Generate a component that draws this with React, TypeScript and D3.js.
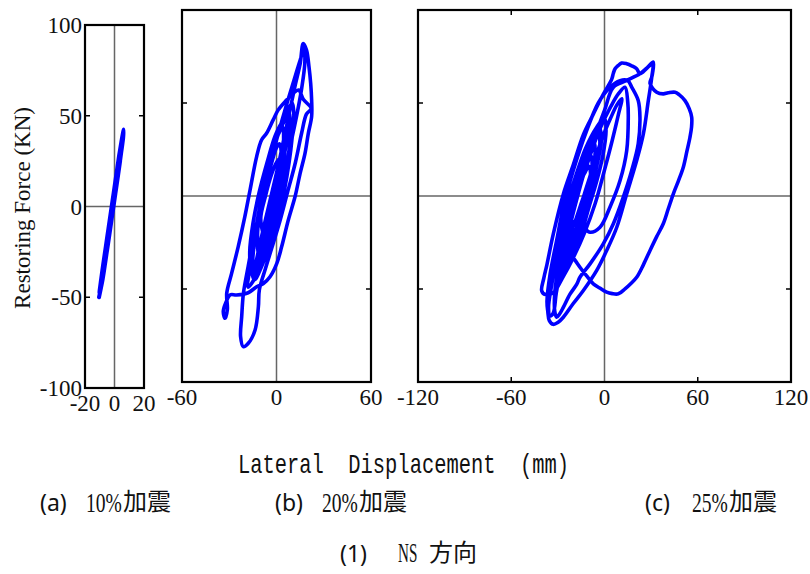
import React from "react";
import * as d3 from "d3";

type Pt = [number, number];

// ---------- tick values ----------
const forceTicks = [100, 50, 0, -50, -100];
const dispTicksA = [-20, 0, 20];
const dispTicksB = [-60, 0, 60];
const dispTicksC = [-120, -60, 0, 60, 120];

// ---------- hysteresis data (displacement mm, force kN) ----------
const loopA: Pt[] = [
  [-10.5, -50], [-8.0, -40], [-6.1, -30], [-4.3, -20], [-2.5, -10], [-0.7, 0], [1.1, 10], [2.9, 20],
  [4.6, 30], [5.9, 38], [6.2, 42.4], [5.6, 40], [4.5, 35], [3.1, 28], [1.3, 18], [-0.5, 8], [-2.3, -2],
  [-4.1, -12], [-5.9, -22], [-7.7, -32], [-9.4, -42], [-10.3, -48], [-9.0, -43], [-7.0, -34], [-5.0, -24],
  [-3.0, -13], [-1.2, -3], [0.6, 7], [2.4, 17], [3.8, 25], [3.2, 22], [1.6, 13], [-0.4, 2], [-2.4, -8],
  [-4.4, -18], [-6.2, -27], [-7.5, -33],
];

const loopB: Pt[] = [
  // small inner loops
  [-8, -22], [-10, -12], [-7, 0], [-3, 12], [0, 18], [2, 20], [3, 14], [1, 2], [-3, -10], [-6, -18],
  [-11, -33], [-12, -20], [-10, -5], [-7, 10], [-3.5, 22], [0, 31], [4, 37], [4.5, 31], [4, 22], [3, 10],
  [0, -5], [-4, -20], [-8, -29], [-12, -34],
  [-16, -40], [-17, -30], [-15, -15], [-11, 2], [-6, 18], [-1, 32], [3, 39], [6, 42], [7, 35], [5, 22],
  [2, 8], [-2, -8], [-7, -22], [-12, -36], [-14, -45],
  // rise to peak
  [-13, -36], [-9, -20], [-4, -2], [1, 16], [5, 32], [9, 48], [12, 60], [15, 71], [17, 82],
  // down right side
  [19.1, 78.4], [20.6, 69.6], [21.7, 60.6], [22.3, 51.6], [22.3, 42.7], [20.2, 33.7], [18.1, 22.9],
  [15, 12.2], [11.8, -0.3], [7.5, -12.9], [3.3, -27.2], [0.2, -36.2], [-4.1, -43.4], [-8.3, -47],
  [-12.6, -48.8], [-18, -52], [-25.3, -53.2], [-29.5, -53.2], [-32, -57], [-33.8, -62], [-32.7, -65.7],
  [-31.2, -61],
  // up left envelope
  [-31.6, -52.3], [-28.5, -41.6], [-24.3, -27.2], [-20.1, -11.1], [-16.8, 3.2], [-12.6, 21.2], [-9.5, 30.1],
  [-6.3, 33.7], [-2.1, 40.9], [1.1, 46.3], [6.4, 51.6], [10.6, 55.2], [14, 57], [17, 52], [22, 47], [19, 44],
  // down into lowest loop
  [16, 34], [12, 18], [7, 2], [2, -14], [-3, -28], [-7, -39], [-10.9, -50.5], [-11.5, -59.5], [-13.6, -72],
  [-17.9, -79.2], [-21.1, -81], [-22.8, -75.6], [-22.1, -64.9], [-21, -52.3], [-18, -37.9], [-14, -20],
  [-10, -5.7], [-5, 12], [0, 30], [6, 48], [11, 62], [15, 73], [17.5, 79], [18, 72], [16, 58], [13, 44],
  [9, 28], [4, 10], [-1, -8], [-6, -24], [-11, -38], [-15, -46], [-18, -49],
  // more inner loops
  [-15, -30], [-12, -12], [-8, 5], [-3, 22], [2, 35], [6, 42], [8, 45], [9, 38], [8, 25], [5, 10], [1, -5],
  [-4, -20], [-9, -33], [-13, -42], [-15, -35], [-13, -20], [-10, -5], [-6, 10], [-2, 25], [3, 38], [7, 46],
  [10, 50], [11, 44], [10, 32], [8, 18], [5, 3], [1, -12], [-4, -26], [-9, -37], [-14, -45],
  [-16, -36], [-14, -22], [-11, -8], [-7, 6], [-3, 18], [0, 26], [2, 28], [3, 22], [1, 10], [-2, -2],
  [-6, -14], [-10, -24], [-12, -28],
];

const loopC: Pt[] = [
  // inner loops
  [-20, -16], [-22, -8], [-18, 3], [-13, 12], [-10, 16], [-9, 10], [-12, 0], [-16, -10], [-20, -16],
  [-24, -30], [-26, -20], [-23, -8], [-19, 5], [-14, 18], [-10, 26], [-7, 30], [-6, 24], [-8, 12],
  [-12, 0], [-16, -12], [-20, -22], [-24, -30],
  [-27, -38], [-29, -28], [-26, -12], [-21, 4], [-15, 19], [-9, 30], [-3, 36], [-2, 30], [-5, 16],
  [-9, 2], [-14, -12], [-19, -24], [-24, -33], [-27, -38],
  [-30, -46], [-32, -36], [-29, -20], [-24, -4], [-18, 12], [-12, 26], [-5, 37], [0, 42], [1, 35],
  [-1, 22], [-5, 8], [-10, -6], [-15, -20], [-21, -32], [-26, -40], [-30, -46],
  // loop L1
  [-29, -38], [-24, -18], [-17, 2], [-10, 20], [-3, 36], [4, 48], [9, 55], [13.2, 58.5], [15, 50],
  [15.3, 42.4], [14.3, 24.5], [10, 8.3], [3.5, -6], [-2.9, -16.8], [-9.3, -19.5], [-13.6, -16.8],
  [-17, -14],
  // sharp inner loop
  [-14, -2], [-8, 14], [-2, 30], [4, 42], [8, 49], [11.1, 52.3], [9, 44], [5, 30], [0, 14], [-6, -4],
  [-13, -20], [-20, -33], [-27, -44], [-33, -52], [-38, -53],
  // big cycle: left envelope, top loop, spike, big right loop
  [-40.4, -51], [-39, -44], [-37, -36.7], [-33, -20.6],
  [-26.5, 1], [-20, 17], [-13.6, 33], [-7.2, 44], [-0.8, 54.7], [4.6, 62.7], [5.7, 66], [6.8, 68.4],
  [8.9, 70.2], [11, 71.5], [14.3, 71.1], [17.5, 70], [20.7, 68.4], [22.8, 65.7], [27, 68.5], [31.4, 72],
  [30.9, 66], [30.4, 63.9], [29.3, 60.5], [33.6, 55.8], [37.8, 54.9], [41, 55.5], [45.4, 55.8], [48, 54.5],
  [51.8, 51.3], [54.5, 47], [56.1, 42.4], [56, 37], [55, 31.6], [53, 24], [50.7, 15.5], [47.5, 8],
  [44.3, 1.2], [41, -7], [37.8, -14.9], [33.5, -22], [29.3, -29.3], [25, -37], [20.7, -43.7], [17, -47],
  [13.2, -49.9], [8.9, -52.6], [5, -52.5], [1.4, -51.7], [-3, -49.5], [-7.2, -47.2], [-11.5, -43],
  [-15.8, -38.3], [-19, -34.5], [-22.2, -31.1], [-28.6, -27.5], [-31, -35], [-34, -48], [-36, -60],
  [-35, -64.5], [-33, -63],
  // second rise to spike, down L3
  [-31, -52], [-27, -35], [-21, -12], [-14, 10], [-7, 30], [0, 46], [5.7, 58.5],
  [14, 62], [22.8, 65.7], [27.5, 69], [31, 71], [30.4, 63.9], [28.2, 51.3], [25, 33.4], [20.7, 19.1],
  [14.3, 1.2], [7.9, -16.8], [1.4, -29.3], [-5, -40], [-13.6, -50.8], [-20.1, -57.8], [-26.5, -65.2],
  [-30, -68], [-33, -69], [-35.5, -67], [-36.5, -62], [-37, -56.5], [-35, -42], [-30.8, -24], [-26.5, -6],
  // L2 loop
  [-20, 14], [-12, 34], [-4, 50], [3, 58], [10, 62], [15, 62], [17.5, 58.5], [21.7, 51.3], [22.8, 42.4],
  [21.7, 28.1], [17.5, 13.7], [12.1, -0.6], [5.7, -14.9], [-0.8, -25.7], [-9.3, -36.5], [-15.8, -43.7],
  [-17.9, -47.5], [-22.2, -52.8], [-26.5, -59.9], [-29, -63.6], [-30.8, -65.2], [-32, -62], [-32, -52],
  // decaying inner loops
  [-30, -40], [-26, -24], [-21, -8], [-15, 10], [-9, 24], [-4, 34], [-3, 28], [-6, 16], [-10, 2],
  [-15, -12], [-20, -24], [-25, -34], [-28, -36], [-27, -26], [-23, -12], [-18, 2], [-13, 14], [-9, 22],
  [-8, 16], [-11, 6], [-15, -4], [-19, -14],
];

// ---------- texts ----------
const yTitle = "Restoring Force (KN)";
const xTitle = "Lateral  Displacement  (mm)";
const panelTags = ["(a)", "(b)", "(c)"];
const panelLevels = ["10%", "20%", "25%"];
const panelSuffix = "加震";
const figTag = "(1)";
const figDir = "NS";
const figDirCJK = "方向";

const SERIF = "'Liberation Serif', 'Times New Roman', serif";
const MONO = "'Liberation Mono', 'DejaVu Sans Mono', monospace";
const SANS = "'Noto Sans', 'Liberation Sans', sans-serif";
const CJK = "'Noto Sans CJK JP', 'Noto Sans CJK SC', sans-serif";

type PanelProps = {
  left: number;
  right: number;
  top: number;
  bottom: number;
  xDomain: [number, number];
  xTicks: number[];
  data: Pt[];
  showY: boolean;
  lw: number;
};

function Panel({ left, right, top, bottom, xDomain, xTicks, data, showY, lw }: PanelProps) {
  const x = d3.scaleLinear().domain(xDomain).range([left, right]);
  const y = d3.scaleLinear().domain([-100, 100]).range([bottom, top]);
  const line = d3
    .line<Pt>()
    .x((d) => x(d[0]))
    .y((d) => y(d[1]))
    .curve(d3.curveCatmullRom.alpha(0.5));
  const innerY = forceTicks.filter((v) => v !== 0 && Math.abs(v) !== 100);
  const innerX = xTicks.filter((v) => v !== 0 && v !== xDomain[0] && v !== xDomain[1]);
  const tl = 5;
  return (
    <g>
      <line x1={x(0)} x2={x(0)} y1={top} y2={bottom} stroke="#666" strokeWidth={1.5} />
      <line x1={left} x2={right} y1={y(0)} y2={y(0)} stroke="#666" strokeWidth={1.5} />
      <path
        d={line(data) || ""}
        fill="none"
        stroke="#0000ff"
        strokeWidth={lw}
        strokeLinejoin="round"
        strokeLinecap="round"
      />
      {innerY.map((v) => (
        <g key={"y" + v}>
          <line x1={left} x2={left + tl} y1={y(v)} y2={y(v)} stroke="#000" strokeWidth={1.5} />
          <line x1={right} x2={right - tl} y1={y(v)} y2={y(v)} stroke="#000" strokeWidth={1.5} />
        </g>
      ))}
      {innerX.map((v) => (
        <g key={"x" + v}>
          <line x1={x(v)} x2={x(v)} y1={bottom} y2={bottom - tl} stroke="#000" strokeWidth={1.5} />
          <line x1={x(v)} x2={x(v)} y1={top} y2={top + tl} stroke="#000" strokeWidth={1.5} />
        </g>
      ))}
      <rect x={left} y={top} width={right - left} height={bottom - top} fill="none" stroke="#000" strokeWidth={2.2} />
      {xTicks.map((v) => (
        <text
          key={"xl" + v}
          x={x(v)}
          y={bottom + 23}
          textAnchor="middle"
          fontFamily={SERIF}
          fontSize={23}
          fill="#111"
        >
          {v}
        </text>
      ))}
      {showY &&
        forceTicks.map((v) => (
          <text
            key={"yl" + v}
            x={left - 3}
            y={y(v)}
            dy="0.35em"
            textAnchor="end"
            fontFamily={SERIF}
            fontSize={23}
            fill="#111"
          >
            {v}
          </text>
        ))}
    </g>
  );
}

const tagX = [40, 275, 645];
const levelX = [86, 322, 692];

export default function App() {
  return (
    <svg
      width={810}
      height={574}
      style={{ position: "absolute", left: 0, top: 0, background: "#fff" }}
    >
      <rect x={0} y={0} width={810} height={574} fill="#fff" />
      <Panel left={85} right={144} top={25} bottom={388} xDomain={[-20, 20]} xTicks={dispTicksA} data={loopA} showY={true} lw={4} />
      <Panel left={182} right={371} top={10} bottom={382} xDomain={[-60, 60]} xTicks={dispTicksB} data={loopB} showY={false} lw={3.6} />
      <Panel left={418} right={791} top={10} bottom={382} xDomain={[-120, 120]} xTicks={dispTicksC} data={loopC} showY={false} lw={3.6} />

      <text
        transform="translate(30,208) rotate(-90)"
        textAnchor="middle"
        fontFamily={SERIF}
        fontSize={23}
        fill="#111"
      >
        {yTitle}
      </text>

      <text
        transform="translate(238,473) scale(0.73,1)"
        fontFamily={MONO}
        fontSize={28}
        fill="#111"
        style={{ whiteSpace: "pre" }}
      >
        {xTitle}
      </text>

      {panelTags.map((t, i) => (
        <g key={t}>
          <text x={tagX[i]} y={511} fontFamily={SANS} fontSize={23} fill="#111">
            {t}
          </text>
          <text
            transform={`translate(${levelX[i]},512) scale(0.7,1)`}
            fontFamily={SERIF}
            fontSize={28}
            fill="#111"
          >
            {panelLevels[i]}
          </text>
          <text x={levelX[i] + 37} y={510} fontFamily={CJK} fontSize={24} fill="#111">
            {panelSuffix}
          </text>
        </g>
      ))}

      <text x={340} y={562} fontFamily={SANS} fontSize={23} fill="#111">
        {figTag}
      </text>
      <text transform="translate(398,562) scale(0.56,1)" fontFamily={SERIF} fontSize={27} fill="#111">
        {figDir}
      </text>
      <text x={477} y={561} textAnchor="end" fontFamily={CJK} fontSize={24} fill="#111">
        {figDirCJK}
      </text>
    </svg>
  );
}
